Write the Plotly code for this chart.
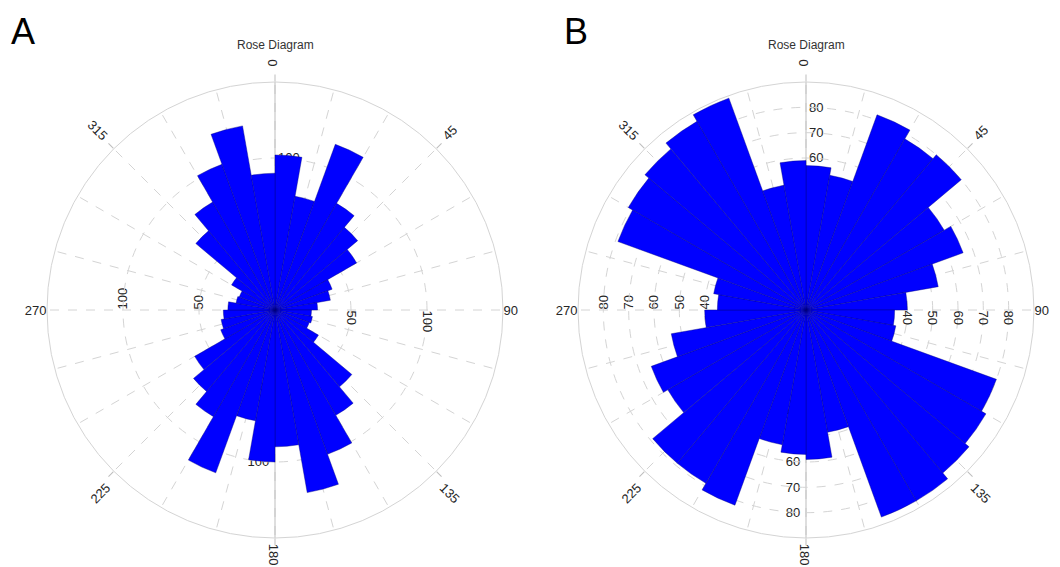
import plotly.graph_objects as go

# ---------------- data ----------------
bin_starts = list(range(0, 360, 10))          # 10-degree bins
bin_width = 10
counts_A = [102, 76, 116, 81, 71, 62, 40, 37, 28, 24, 25, 24,
            33, 66, 80, 101, 122, 90, 100, 74, 114, 81, 70, 61,
            38, 36, 34, 31, 26, 25, 33, 68, 82, 102, 123, 90]
counts_B = [57, 54, 82, 78, 80, 63, 66, 53, 40, 35, 36, 80,
            82, 84, 87, 87, 49, 59, 57, 54, 82, 79, 79, 63,
            65, 54, 40, 35, 37, 79, 81, 83, 86, 89, 50, 59]
rmax_A = 150
rmax_B = 90
ring_vals_A = [50, 100, 150]
ring_text_A = ["50", "100", ""]
ring_vals_B = [10, 20, 30, 40, 50, 60, 70, 80, 90]
ring_text_B = ["", "", "", "40", "50", "60", "70", "80", ""]
spoke_angles = list(range(0, 360, 15))
panel_letters = ["A", "B"]
panel_title = "Rose Diagram"

centers = [s + bin_width / 2 for s in bin_starts]

W, H = 1060, 567
OFF = 8  # page body margin
FONT = "Liberation Sans, Arial, sans-serif"
tick_font = dict(family=FONT, size=13, color="#262626")
GRID = "#d4d4d4"
AXL = "#bdbdbd"

fig = go.Figure()


def pid(k):
    return "polar" if k == 1 else f"polar{k}"


def add_panel(n0, counts, rmax, rvals, rtext, cx, cy, rad):
    cx -= OFF
    cy -= OFF
    ids = [pid(k) for k in range(n0, n0 + 4)]
    dom = dict(x=[(cx - rad) / W, (cx + rad) / W],
               y=[1 - (cy + rad) / H, 1 - (cy - rad) / H])
    for p in ids[:3]:
        fig.add_trace(go.Scatterpolar(r=[], theta=[], subplot=p,
                                      showlegend=False, hoverinfo="skip"))
    fig.add_trace(go.Barpolar(
        r=counts, theta=centers, width=[bin_width] * len(counts),
        subplot=ids[3], showlegend=False,
        marker=dict(color="#0000ff",
                    line=dict(color="rgba(0,0,120,0.65)", width=0.6))))

    def ang(**kw):
        d = dict(rotation=90, direction="clockwise", showline=False,
                 showgrid=False, ticks="", tickmode="array",
                 tickfont=tick_font)
        d.update(kw)
        return d

    def rad_ax(**kw):
        d = dict(range=[0, rmax], showline=False, showgrid=False, ticks="",
                 tickmode="array", tickvals=rvals, ticktext=rtext,
                 tickfont=tick_font)
        d.update(kw)
        return d

    spoke_text = [str(a) if a in (90, 270) else "" for a in spoke_angles]
    layouts = {
        ids[0]: dict(
            angularaxis=ang(tickvals=spoke_angles, ticktext=spoke_text,
                            tickangle=0, showgrid=True, gridcolor=GRID,
                            griddash="dash", gridwidth=1),
            radialaxis=rad_ax(angle=180, tickangle=90)),
        ids[1]: dict(
            angularaxis=ang(tickvals=[45, 225], ticktext=["45", "225"],
                            tickangle=-45, ticks="outside", ticklen=7,
                            tickcolor=AXL),
            radialaxis=rad_ax(angle=90, tickangle=90, showline=True,
                              linecolor=AXL, linewidth=1)),
        ids[2]: dict(
            angularaxis=ang(tickvals=[135, 315], ticktext=["135", "315"],
                            tickangle=45, ticks="outside", ticklen=7,
                            tickcolor=AXL),
            radialaxis=rad_ax(angle=270, tickangle=-90, showline=True,
                              linecolor=AXL, linewidth=1)),
        ids[3]: dict(
            angularaxis=ang(tickvals=[0, 180], ticktext=["0", "180"],
                            tickangle=90, ticks="outside", ticklen=7,
                            tickcolor=AXL, showline=True, linecolor=GRID),
            radialaxis=rad_ax(angle=0, tickangle=90, showgrid=True,
                              gridcolor=GRID, griddash="dash",
                              layer="below traces")),
    }
    for p, d in layouts.items():
        d["domain"] = dom
        d["bgcolor"] = "rgba(0,0,0,0)"
        d["hole"] = 0
        fig.update_layout({p: d})


add_panel(1, counts_A, rmax_A, ring_vals_A, ring_text_A, 275, 310, 228)
add_panel(5, counts_B, rmax_B, ring_vals_B, ring_text_B, 806, 310, 228)

annotations = []
for letter, lx, tx in zip(panel_letters, [9, 562], [275, 806]):
    annotations.append(dict(text=letter, x=(lx - OFF) / W, y=1 - (9 - OFF) / H,
                            xref="paper", yref="paper", xanchor="left",
                            yanchor="top", showarrow=False,
                            font=dict(family=FONT, size=36, color="#000")))
    annotations.append(dict(text=panel_title, x=(tx - OFF) / W,
                            y=1 - (45 - OFF) / H,
                            xref="paper", yref="paper", xanchor="center",
                            yanchor="middle", showarrow=False,
                            font=dict(family=FONT, size=12, color="#333")))

fig.update_layout(width=W, height=H, margin=dict(l=0, r=0, t=0, b=0),
                  paper_bgcolor="white", plot_bgcolor="white",
                  showlegend=False, annotations=annotations)

fig.write_html("out.html")
